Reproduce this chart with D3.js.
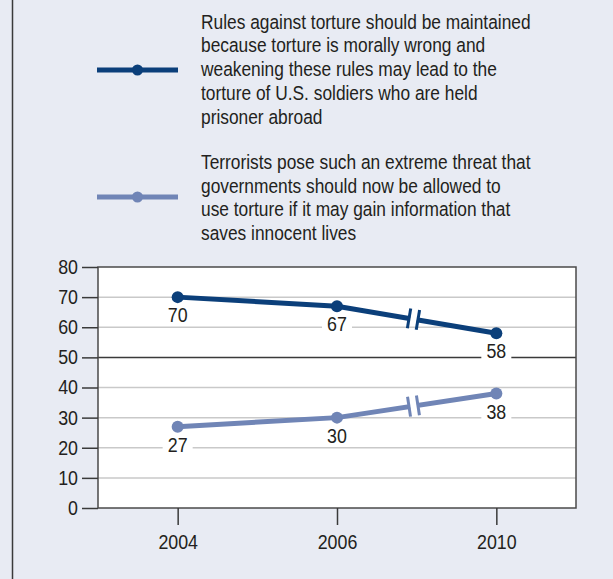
<!DOCTYPE html>
<html>
<head>
<meta charset="utf-8">
<script src="https://cdn.jsdelivr.net/npm/d3@7"></script>
<style>
  body { margin: 0; background: #e8ebf3; }
  svg { display: block; }
  text { font-family: "Liberation Sans", Arial, sans-serif; fill: #231f20; }
</style>
</head>
<body>
<script>
const w = 613;
const h = 579;
const margin = { top: 267, right: 37, bottom: 71, left: 98 };
const squeeze = 0.89; // the original type is a condensed face

// data
const years = ['2004', '2006', '2010'];
const maintainRules = [70, 67, 58];
const allowTorture = [27, 30, 38];
const yTicks = [0, 10, 20, 30, 40, 50, 60, 70, 80];
const seriesNames = [
  ['Rules against torture should be maintained',
   'because torture is morally wrong and',
   'weakening these rules may lead to the',
   'torture of U.S. soldiers who are held',
   'prisoner abroad'],
  ['Terrorists pose such an extreme threat that',
   'governments should now be allowed to',
   'use torture if it may gain information that',
   'saves innocent lives']
];
const colors = ['#0b3f7a', '#7085b6'];

const svg = d3.select('body').append('svg')
  .attr('width', w)
  .attr('height', h);

svg.append('rect')
  .attr('width', w).attr('height', h)
  .attr('fill', '#e8ebf3');

// left frame line
svg.append('line')
  .attr('x1', 12.5).attr('x2', 12.5)
  .attr('y1', 0).attr('y2', h)
  .attr('stroke', '#3a3a3a')
  .attr('stroke-width', 1.5);

const x = d3.scalePoint()
  .domain(years)
  .range([margin.left, w - margin.right])
  .padding(0.5);

const y = d3.scaleLinear()
  .domain([0, 80])
  .range([h - margin.bottom, margin.top]);

// plot background
svg.append('rect')
  .attr('x', margin.left)
  .attr('y', margin.top)
  .attr('width', w - margin.left - margin.right)
  .attr('height', h - margin.top - margin.bottom)
  .attr('fill', '#fff');

// gridlines
svg.append('g')
  .selectAll('line')
  .data(yTicks.filter(d => d > 0 && d < 80))
  .enter().append('line')
  .attr('x1', margin.left)
  .attr('x2', w - margin.right)
  .attr('y1', d => y(d))
  .attr('y2', d => y(d))
  .attr('stroke', d => d === 50 ? '#3a3a3a' : '#c9c9c9')
  .attr('stroke-width', 1.5);

// frame
svg.append('rect')
  .attr('x', margin.left)
  .attr('y', margin.top)
  .attr('width', w - margin.left - margin.right)
  .attr('height', h - margin.top - margin.bottom)
  .attr('fill', 'none')
  .attr('stroke', '#4a4a4a')
  .attr('stroke-width', 1.5);

// y axis
const yAxis = svg.append('g')
  .attr('transform', `translate(${margin.left},0)`)
  .call(d3.axisLeft(y).tickValues(yTicks).tickSize(16).tickPadding(4));
yAxis.select('.domain').remove();
yAxis.selectAll('.tick line').attr('stroke', '#3a3a3a').attr('stroke-width', 1.5);
yAxis.selectAll('.tick text')
  .attr('fill', '#231f20')
  .attr('x', -20 / squeeze)
  .attr('transform', `scale(${squeeze},1)`)
  .style('font-size', '20px')
  .style('font-family', null);

// x axis
const xAxis = svg.append('g')
  .attr('transform', `translate(0,${h - margin.bottom})`)
  .call(d3.axisBottom(x).tickSize(17).tickPadding(10));
xAxis.select('.domain').remove();
xAxis.selectAll('.tick line').attr('stroke', '#3a3a3a').attr('stroke-width', 1.5);
xAxis.selectAll('.tick text')
  .attr('fill', '#231f20')
  .attr('transform', `scale(${squeeze},1)`)
  .style('font-size', '20px')
  .style('font-family', null);

const line = d3.line()
  .x((d, i) => x(years[i]))
  .y(d => y(d));

[maintainRules, allowTorture].forEach((vals, s) => {
  const g = svg.append('g');
  g.append('path')
    .datum(vals)
    .attr('d', line)
    .attr('fill', 'none')
    .attr('stroke', colors[s])
    .attr('stroke-width', 5);

  // break marks between 2006 and 2010
  const x0 = x(years[1]), y0 = y(vals[1]);
  const x1 = x(years[2]), y1 = y(vals[2]);
  const t = 0.48;
  const bx = x0 + (x1 - x0) * t;
  const by = y0 + (y1 - y0) * t;
  const ang = Math.atan2(y1 - y0, x1 - x0) * 180 / Math.PI;
  const brk = g.append('g')
    .attr('transform', `translate(${bx},${by}) rotate(${ang})`);
  brk.append('rect')
    .attr('x', -3.5).attr('y', -4)
    .attr('width', 7).attr('height', 8)
    .attr('fill', '#fff');
  [-4.5, 4.5].forEach(dx => {
    brk.append('line')
      .attr('x1', dx).attr('x2', dx)
      .attr('y1', -10).attr('y2', 10)
      .attr('stroke', colors[s])
      .attr('stroke-width', 3);
  });

  g.selectAll('circle')
    .data(vals)
    .enter().append('circle')
    .attr('cx', (d, i) => x(years[i]))
    .attr('cy', d => y(d))
    .attr('r', 6)
    .attr('fill', colors[s]);

  const labels = g.selectAll('g.lbl')
    .data(vals)
    .enter().append('g')
    .attr('class', 'lbl')
    .attr('transform', (d, i) => `translate(${x(years[i])},${y(d) + 18})`);
  labels.append('rect')
    .attr('x', -15).attr('y', -9)
    .attr('width', 30).attr('height', 18)
    .attr('fill', '#fff');
  labels.append('text')
    .attr('text-anchor', 'middle')
    .attr('dy', '0.35em')
    .attr('transform', `scale(${squeeze},1)`)
    .style('font-size', '20px')
    .text(d => d);
});

// legend
const legendY = [70, 197];
const legendBase = [28.7, 169];
seriesNames.forEach((lines, s) => {
  const lg = svg.append('g');
  lg.append('line')
    .attr('x1', 97).attr('x2', 178)
    .attr('y1', legendY[s]).attr('y2', legendY[s])
    .attr('stroke', colors[s])
    .attr('stroke-width', 5);
  lg.append('circle')
    .attr('cx', 137.5).attr('cy', legendY[s])
    .attr('r', 5.5)
    .attr('fill', colors[s]);
  lg.selectAll('text')
    .data(lines)
    .enter().append('text')
    .attr('transform', (d, i) => `translate(201,${legendBase[s] + i * 23.7}) scale(${squeeze},1)`)
    .style('font-size', '19.5px')
    .text(d => d);
});
</script>
</body>
</html>
